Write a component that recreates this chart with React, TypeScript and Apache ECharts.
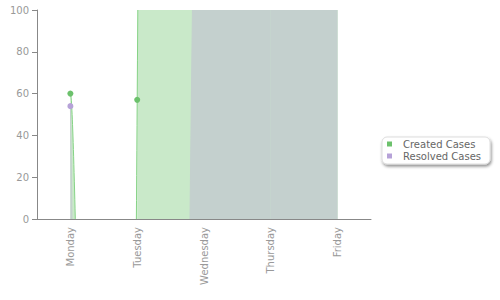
import React, { useEffect, useRef } from 'react';
import * as echarts from 'echarts';

const days = ['Monday', 'Tuesday', 'Wednesday', 'Thursday', 'Friday'];
const createdCases = [60, 57, 9500, 9500, 9500];
const resolvedCases = [54, -2080, 445, 445, 445];
const seriesNames = ['Created Cases', 'Resolved Cases'];
const yMin = 0;
const yMax = 100;
const yStep = 20;

const FONT = 'DejaVu Sans, Verdana, sans-serif';

function makeRenderItem(values: number[], lineColor: string, areaColor: string, dotColor: string, areaZ: number) {
  return (params: any, api: any) => {
    const i = params.dataIndex;
    const n = values.length;
    const pt = (j: number) => {
      const k = Math.max(0, Math.min(n - 1, j));
      return api.coord([k, values[k]]);
    };
    const children: any[] = [];
    if (i < n - 1) {
      const p0 = pt(i - 1);
      const p1 = pt(i);
      const p2 = pt(i + 1);
      const p3 = pt(i + 2);
      const s = 1 / 6;
      const c1 = [p1[0] + s * (p2[0] - p0[0]), p1[1] + s * (p2[1] - p0[1])];
      const c2 = [p2[0] - s * (p3[0] - p1[0]), p2[1] - s * (p3[1] - p1[1])];
      const base = api.coord([i, 0])[1];
      const curve = `M${p1[0]},${p1[1]} C${c1[0]},${c1[1]} ${c2[0]},${c2[1]} ${p2[0]},${p2[1]}`;
      const area = `${curve} L${p2[0]},${base} L${p1[0]},${base} Z`;
      children.push({ type: 'path', z2: areaZ, shape: { pathData: area }, style: { fill: areaColor, stroke: null } });
      children.push({ type: 'path', z2: 2, shape: { pathData: curve }, style: { fill: null, stroke: lineColor, lineWidth: 1 } });
    }
    const p = pt(i);
    children.push({ type: 'circle', z2: 3, shape: { cx: p[0], cy: p[1], r: 3 }, style: { fill: dotColor } });
    return { type: 'group', children };
  };
}

export default function App() {
  const ref = useRef<HTMLDivElement>(null);
  useEffect(() => {
    document.body.style.margin = '0';
    if (!ref.current) return;
    const chart = echarts.init(ref.current, null, { renderer: 'svg' });
    chart.setOption({
      animation: false,
      grid: { left: 37, right: 129, top: 10, bottom: 81 },
      legend: {
        data: seriesNames,
        orient: 'vertical',
        left: 382,
        top: 137,
        icon: 'rect',
        itemWidth: 5,
        itemHeight: 5,
        itemGap: 0,
        padding: [1, 9, 2, 5],
        backgroundColor: '#fff',
        borderColor: '#ddd',
        borderWidth: 1,
        borderRadius: 5,
        shadowBlur: 3,
        shadowColor: 'rgba(0,0,0,0.45)',
        shadowOffsetX: 1,
        shadowOffsetY: 2,
        textStyle: { color: '#666', fontSize: 10, fontFamily: FONT, lineHeight: 12, padding: [0, 0, 0, 6] },
      },
      xAxis: {
        type: 'category',
        data: days,
        boundaryGap: true,
        axisLine: { lineStyle: { color: '#888' } },
        axisTick: { alignWithLabel: true, length: 5, lineStyle: { color: '#888' } },
        axisLabel: { rotate: 90, color: '#999', fontSize: 10, fontFamily: FONT, margin: 8 },
        splitLine: { show: false },
      },
      yAxis: {
        type: 'value',
        min: yMin,
        max: yMax,
        interval: yStep,
        axisLine: { show: true, lineStyle: { color: '#888' } },
        axisTick: { show: true, length: 5, lineStyle: { color: '#888' } },
        axisLabel: { color: '#999', fontSize: 10, fontFamily: FONT, margin: 8 },
        splitLine: { show: false },
      },
      series: [
        {
          name: seriesNames[0],
          type: 'custom',
          clip: true,
          itemStyle: { color: '#6cc16c' },
          encode: { x: 0, y: 1 },
          data: createdCases.map((v, i) => [i, v]),
          renderItem: makeRenderItem(createdCases, '#86d386', '#c9e9c9', '#6cc16c', 0),
        },
        {
          name: seriesNames[1],
          type: 'custom',
          clip: true,
          itemStyle: { color: '#b6a2d8' },
          encode: { x: 0, y: 1 },
          data: resolvedCases.map((v, i) => [i, v]),
          renderItem: makeRenderItem(resolvedCases, '#c4d0ce', '#c4d0ce', '#b6a2d8', 1),
        },
      ],
    });
    return () => chart.dispose();
  }, []);
  return <div ref={ref} style={{ width: 500, height: 300 }} />;
}
